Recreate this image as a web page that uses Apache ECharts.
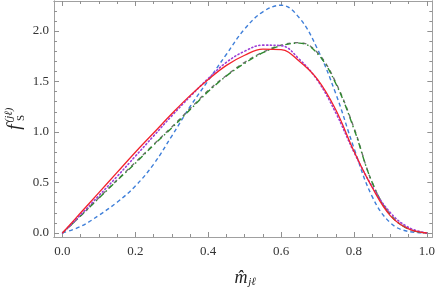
<!DOCTYPE html>
<html>
<head>
<meta charset="utf-8">
<script src="https://cdn.jsdelivr.net/npm/echarts@6/dist/echarts.min.js"></script>
<style>html,body{margin:0;padding:0;background:#fff;}#c{width:438px;height:289px;}</style>
</head>
<body>
<div id="c"></div>
<script>
const xs = [0,0.05,0.1,0.15,0.2,0.25,0.3,0.35,0.4,0.45,0.5,0.55,0.6,0.65,0.7,0.75,0.8,0.85,0.9,0.95,1.0];
const redVals    = [0,0.20,0.40,0.60,0.80,0.99,1.18,1.36,1.52,1.66,1.76,1.82,1.815,1.70,1.52,1.22,0.81,0.45,0.17,0.04,0];
const purpleVals = [0,0.18,0.37,0.56,0.76,0.96,1.16,1.35,1.53,1.69,1.80,1.86,1.855,1.72,1.51,1.19,0.80,0.46,0.20,0.055,0];
const greenVals  = [0,0.17,0.345,0.52,0.69,0.87,1.04,1.22,1.40,1.555,1.68,1.785,1.855,1.88,1.775,1.48,1.03,0.50,0.18,0.04,0];
const grayVals   = [0,0.17,0.35,0.525,0.70,0.875,1.05,1.23,1.41,1.56,1.69,1.79,1.86,1.885,1.785,1.49,1.04,0.50,0.18,0.04,0];
const blueVals   = [0,0.065,0.175,0.305,0.465,0.68,0.96,1.25,1.51,1.77,2.02,2.19,2.255,2.13,1.82,1.38,0.84,0.36,0.10,0.015,0];
const xMajor = [0,0.2,0.4,0.6,0.8,1.0];
const xMinor = [0.05,0.1,0.15,0.25,0.3,0.35,0.45,0.5,0.55,0.65,0.7,0.75,0.85,0.9,0.95];
const yMajor = [0,0.5,1.0,1.5,2.0];
const yMinor = [0.1,0.2,0.3,0.4,0.6,0.7,0.8,0.9,1.1,1.2,1.3,1.4,1.6,1.7,1.8,1.9,2.1,2.2];

const XMIN = -0.0232, XMAX = 1.015, YMIN = -0.0396, YMAX = 2.297;
const frameColor = '#a0a0a0';
const tickColor = '#909090';
const SERIF = '"Liberation Serif", "Times New Roman", Times, serif';
const labelFont = {fontFamily:SERIF, fontSize:13, color:'#333'};

function pairs(v){ return xs.map((x,i)=>[x,v[i]]); }

function xAx(pos, ticks, len, labels){
  return {type:'value', min:XMIN, max:XMAX, position:pos, gridIndex:0,
    axisLine:{show:true, onZero:false, lineStyle:{color:frameColor, width:1}},
    splitLine:{show:false},
    axisTick:{show:true, inside:true, length:len, customValues:ticks, lineStyle:{color:tickColor, width:1}},
    axisLabel: labels ? Object.assign({show:true, customValues:xMajor, margin:8, formatter:v=>v.toFixed(1)}, labelFont) : {show:false}
  };
}
function yAx(pos, ticks, len, labels){
  return {type:'value', min:YMIN, max:YMAX, position:pos, gridIndex:0,
    axisLine:{show:true, onZero:false, lineStyle:{color:frameColor, width:1}},
    splitLine:{show:false},
    axisTick:{show:true, inside:true, length:len, customValues:ticks, lineStyle:{color:tickColor, width:1}},
    axisLabel: labels ? Object.assign({show:true, customValues:yMajor, margin:5, formatter:v=>v.toFixed(1)}, labelFont) : {show:false}
  };
}

const chart = echarts.init(document.getElementById('c'), null, {renderer:'canvas'});
const lineBase = {type:'line', xAxisIndex:0, yAxisIndex:0, showSymbol:false, symbol:'none', smooth:0.4, animation:false};
chart.setOption({
  animation:false,
  backgroundColor:'#fff',
  grid:{left:54, right:3, top:1, bottom:52, containLabel:false},
  xAxis:[xAx('bottom', xMajor, 5, true), xAx('bottom', xMinor, 3, false), xAx('top', xMajor, 5, false), xAx('top', xMinor, 3, false)],
  yAxis:[yAx('left', yMajor, 5, true), yAx('left', yMinor, 3, false), yAx('right', yMajor, 5, false), yAx('right', yMinor, 3, false)],
  series:[
    Object.assign({}, lineBase, {name:'blue', data:pairs(blueVals), lineStyle:{color:'#3f7fd9', width:1.4, type:[4,3]}}),
    Object.assign({}, lineBase, {name:'gray', data:pairs(grayVals), lineStyle:{color:'#707070', width:1.4, type:[4,4]}}),
    Object.assign({}, lineBase, {name:'green', data:pairs(greenVals), lineStyle:{color:'#2f8a2f', width:1.4, type:[6,3,1.5,3], dashOffset:3}}),
    Object.assign({}, lineBase, {name:'purple', data:pairs(purpleVals), lineStyle:{color:'#9c3fd6', width:1.6, type:[1.2,2.6], cap:'round'}}),
    Object.assign({}, lineBase, {name:'red', data:pairs(redVals), lineStyle:{color:'#f2222c', width:1.3, type:'solid'}})
  ],
  graphic:[
    {type:'text', x:15, y:127, rotation:Math.PI/2, style:{text:'f', font:'italic 19px ' + SERIF, fill:'#222', align:'center', verticalAlign:'middle'}},
    {type:'text', x:9, y:115, rotation:Math.PI/2, style:{text:'(jℓ)', font:'italic 11px ' + SERIF, fill:'#222', align:'center', verticalAlign:'middle'}},
    {type:'text', x:21, y:118, rotation:Math.PI/2, style:{text:'S', font:'11px ' + SERIF, fill:'#222', align:'center', verticalAlign:'middle'}},
    {type:'text', x:241, y:278, style:{text:'m̂', font:'italic 18px ' + SERIF, fill:'#222', align:'center', verticalAlign:'middle'}},
    {type:'text', x:252, y:282, style:{text:'jℓ', font:'italic 11px ' + SERIF, fill:'#222', align:'center', verticalAlign:'middle'}}
  ]
});
</script>
</body>
</html>
